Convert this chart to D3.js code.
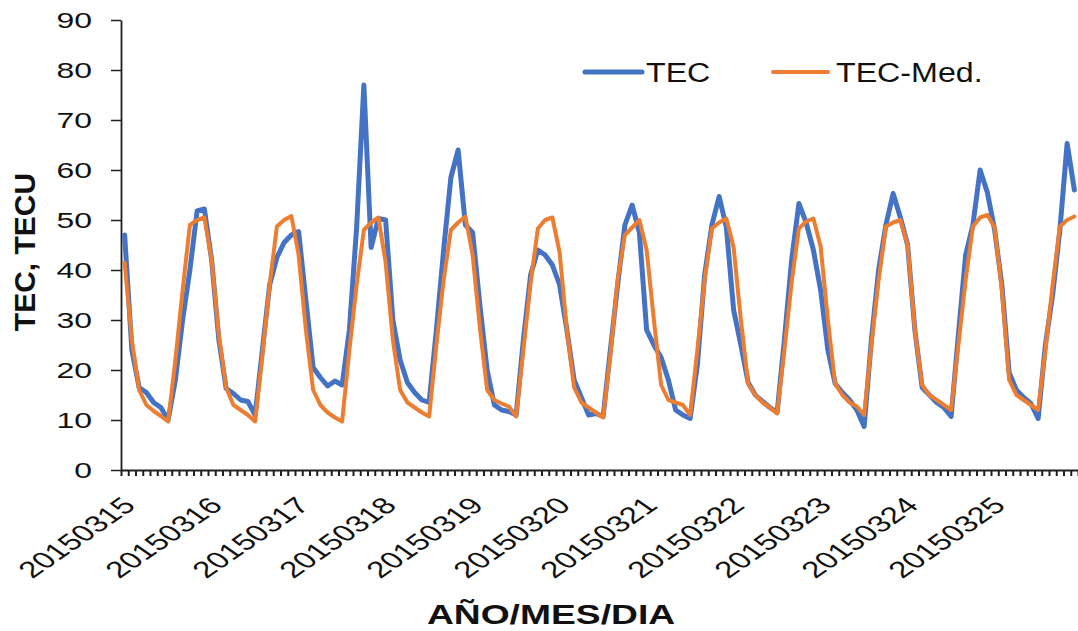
<!DOCTYPE html>
<html><head><meta charset="utf-8">
<script src="https://cdn.jsdelivr.net/npm/d3@7"></script>
<style>
html,body{margin:0;padding:0;background:#fff;}
svg{display:block;font-family:"Liberation Sans",Arial,sans-serif;}
</style></head>
<body><svg id="c" width="1078" height="631"></svg>
<script>
// Days (category labels, one every 12 two-hour samples)
const days = ["20150315","20150316","20150317","20150318","20150319","20150320","20150321","20150322","20150323","20150324","20150325"];
const yTicks = [0,10,20,30,40,50,60,70,80,90];
const seriesNames = ["TEC","TEC-Med."];
const colors = ["#4472C4","#ED7D31"];

// TEC (2-hour samples)
const tec = [
 47,24,16.5,15.5,13.5,12.5,10,18,30,40,51.8,52.2,
 42,26,16.3,15.3,14,13.7,11,24,37,42.5,45.5,47,
 47.7,34,20.5,18.5,16.8,17.8,17,28,48.5,77,44.5,50.3,
 50,30,22,17.5,15.5,14,13.5,28,44,58.5,64,49,
 47.5,33,20,13,12,11.7,11,26,39,44,43,41,
 37,28,18,14.5,11,11.3,10.7,24,37,49,53,47.5,
 28,25,22.5,18,12,11,10.3,21,39,49,54.7,48.5,
 32,25,17.5,15,13.7,12.5,11.5,26,42,53.3,49.5,44,
 36,24,17.3,15.5,14,12,8.7,26,40,49,55.3,50.5,
 45,28,16.5,15,13.5,12.5,10.7,27,43,49,60,55.5,
 48,37,19.5,16,14.5,13.3,10.3,25,35,48,65.3,56
];
// TEC median
const tecMed = [
 41.5,26,16,13,11.8,10.8,9.7,22,36,49,50,50.5,
 42,27,16.5,13,12,11,9.7,23,37,48.7,50,50.8,
 43,28,16,13,11.5,10.5,9.7,24,37,48,49.5,50.5,
 41.5,26,16,13.5,12.5,11.5,10.7,25,38,48,49.5,50.7,
 43,28.5,16,14,13.3,12.7,10.7,24,37.5,48.3,50,50.5,
 43.5,28,16.5,13.5,12.5,11.5,10.5,23,38,47,48.5,50,
 44,30,17,14,13.5,13,11,24,38,48.3,49.5,50.3,
 44.5,30,17.3,15,13.5,12.5,11.3,24,37.5,48.3,49.7,50.3,
 44.7,30,17.3,15,13.5,12.7,11,25,38,48.7,49.5,50,
 45,28,17,15,14,13,12,25,38,48.7,50.5,51,
 48.5,36,18,15,14,13,12,24,37,48.7,50,50.7
];

const svg = d3.select("#c");
const N = tec.length;
const L = 121, R = 1078, T = 20, B = 470;
const x = d3.scaleLinear().domain([0, N]).range([L, R]);
const y = d3.scaleLinear().domain([0, 90]).range([B, T]);
const axisColor = "#1f1f1f";

// Y axis
const yg = svg.append("g").attr("transform", `translate(${L},0)`)
  .call(d3.axisLeft(y).tickValues(yTicks).tickSize(10).tickSizeOuter(0));
yg.select(".domain").attr("stroke", axisColor).attr("stroke-width", 1.8);
yg.selectAll(".tick line").attr("stroke", axisColor).attr("stroke-width", 1.5);
const sy = 1.45;
yg.selectAll(".tick text")
  .attr("x", -29 / sy).attr("dy", "0.36em")
  .attr("transform", `scale(${sy},1)`)
  .attr("font-size", 22).attr("fill", "#111")
  .attr("font-family", "Liberation Sans, Arial, sans-serif");

// X axis (minor ticks at each category boundary)
const xg = svg.append("g").attr("transform", `translate(0,${B})`)
  .call(d3.axisBottom(x).tickValues(d3.range(0, N + 1)).tickSize(6).tickSizeOuter(0).tickFormat(""));
xg.select(".domain").attr("stroke", axisColor).attr("stroke-width", 1.8);
xg.selectAll(".tick line").attr("stroke", axisColor).attr("stroke-width", 2);

// X labels (rotated)
const sx = 1.45, fx = 23;
svg.append("g").selectAll("text").data(days).join("text")
  .attr("transform", (d, i) => `translate(${x(i * 12) + 16},${B + 37}) scale(${sx},1) rotate(-45)`)
  .attr("text-anchor", "end")
  .attr("font-size", fx).attr("fill", "#111")
  .text(d => d);

// Lines
const line = d3.line().x((d, i) => x(i + 0.5)).y(d => y(d)).curve(d3.curveLinear);
const plot = svg.append("g");
plot.append("path").datum(tec).attr("d", line)
  .attr("fill", "none").attr("stroke", colors[0]).attr("stroke-width", 5)
  .attr("stroke-linejoin", "round").attr("stroke-linecap", "round");
plot.append("path").datum(tecMed).attr("d", line)
  .attr("fill", "none").attr("stroke", colors[1]).attr("stroke-width", 4)
  .attr("stroke-linejoin", "round").attr("stroke-linecap", "round");

// Legend
const leg = [{x1:585,x2:642,tx:646},{x1:773,x2:828,tx:836}];
const lg = svg.append("g");
leg.forEach((l, i) => {
  lg.append("line").attr("x1", l.x1).attr("x2", l.x2).attr("y1", 72).attr("y2", 72)
    .attr("stroke", colors[i]).attr("stroke-width", i === 0 ? 5 : 4).attr("stroke-linecap", "round");
  lg.append("text").attr("transform", `translate(${l.tx},82) scale(1.15,1)`)
    .attr("font-size", 28).attr("fill", "#111").text(seriesNames[i]);
});

// Axis titles
svg.append("text").attr("transform", "translate(35,252) rotate(-90)")
  .attr("text-anchor", "middle").attr("font-size", 30).attr("font-weight", "bold")
  .attr("fill", "#111").text("TEC, TECU");
svg.append("text").attr("transform", "translate(551,624) scale(1.33,1)")
  .attr("text-anchor", "middle").attr("font-size", 28).attr("font-weight", "bold")
  .attr("fill", "#111").text("AÑO/MES/DIA");
</script></body></html>
